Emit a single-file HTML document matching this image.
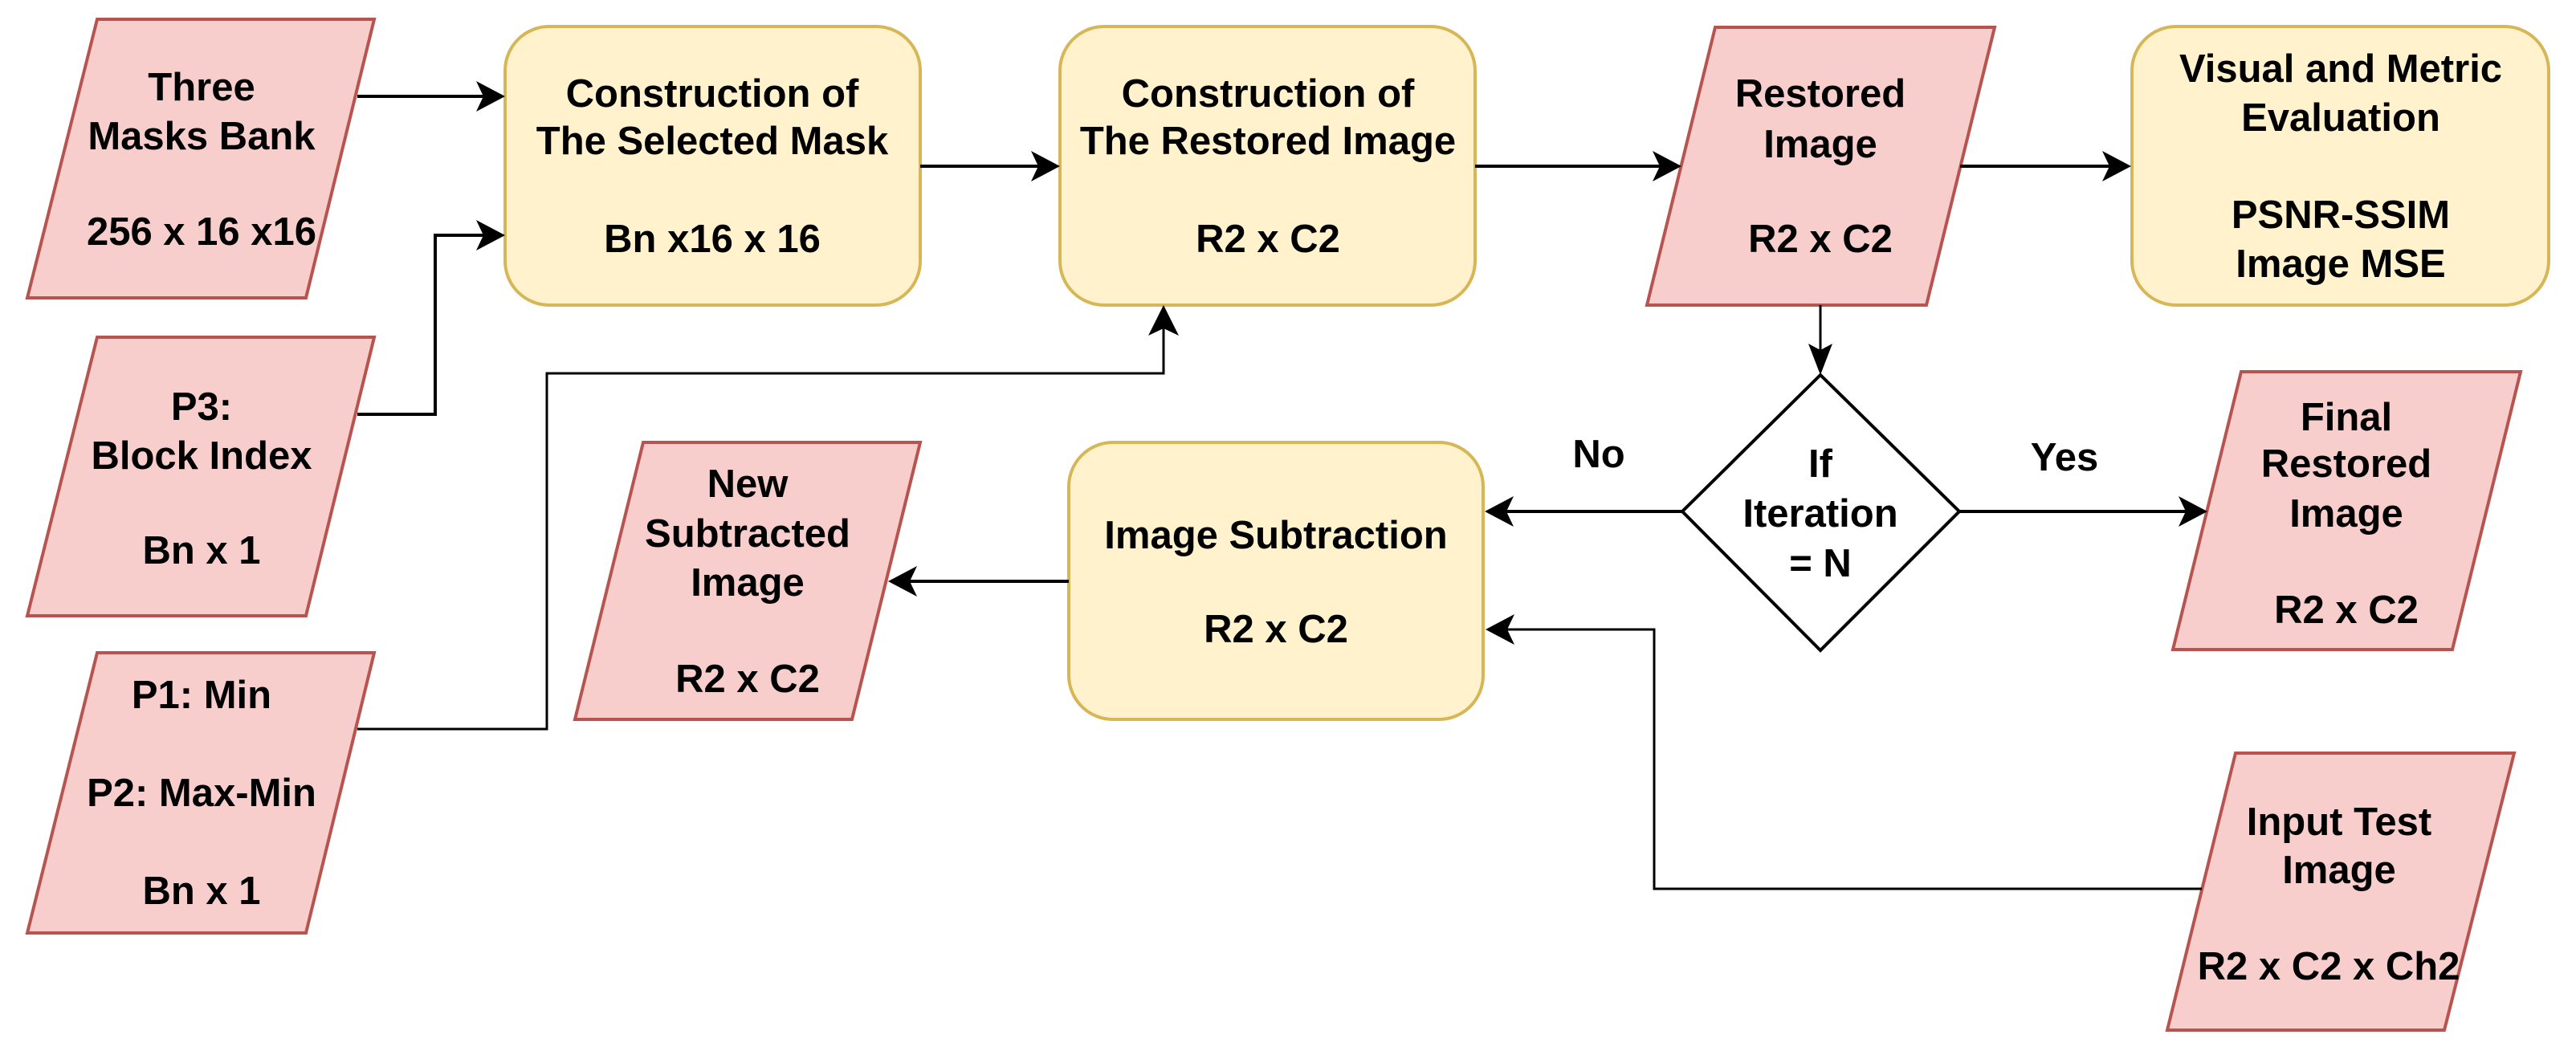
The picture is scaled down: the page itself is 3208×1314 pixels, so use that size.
<!DOCTYPE html>
<html><head><meta charset="utf-8"><style>
html,body{margin:0;padding:0;background:#fff}
svg{display:block}
text{font-family:"Liberation Sans",Arial,sans-serif;font-weight:bold;font-size:49px;fill:#000;text-anchor:middle;dominant-baseline:central}
.p{fill:#f8cecc;stroke:#b85450;stroke-width:4}
.y{fill:#fff2cc;stroke:#d6b656;stroke-width:4}
.l{fill:none;stroke:#000;stroke-width:4}
.t{fill:none;stroke:#000;stroke-width:3}
.a{fill:#000}
</style></head><body>
<svg width="3208" height="1314" viewBox="0 0 3208 1314" xmlns="http://www.w3.org/2000/svg">
<!-- parallelograms -->
<polygon class="p" points="121,24 466,24 381,371 34,371"/>
<polygon class="p" points="121,420 466,420 381,767 34,767"/>
<polygon class="p" points="121,813 466,813 381,1162 34,1162"/>
<polygon class="p" points="801,551 1146,551 1061,896 716,896"/>
<polygon class="p" points="2136,34 2484,34 2399,380 2051,380"/>
<polygon class="p" points="2791,463 3139,463 3054,809 2706,809"/>
<polygon class="p" points="2784,938 3131,938 3044,1283 2699,1283"/>
<!-- rounded boxes -->
<rect class="y" x="629" y="33" width="517" height="347" rx="55"/>
<rect class="y" x="1320" y="33" width="517" height="347" rx="55"/>
<rect class="y" x="2655" y="33" width="519" height="347" rx="55"/>
<rect class="y" x="1331" y="551" width="516" height="345" rx="55"/>
<!-- diamond -->
<polygon points="2267,467 2440,637 2267,810 2095,637" fill="#fff" stroke="#000" stroke-width="4"/>

<!-- connectors -->
<line class="l" x1="445" y1="120" x2="605" y2="120"/>
<polygon class="a" points="629,120 593,101 602,120 593,139"/>
<polyline class="l" points="445,516 542,516 542,293 605,293"/>
<polygon class="a" points="629,293 593,274 602,293 593,312"/>
<line class="l" x1="1146" y1="207" x2="1296" y2="207"/>
<polygon class="a" points="1320,207 1284,188 1293,207 1284,226"/>
<polyline class="t" points="445,908 681,908 681,465 1449,465 1449,405"/>
<polygon class="a" points="1449,380 1430,418 1449,409 1468,418"/>
<line class="l" x1="1837" y1="207" x2="2070" y2="207"/>
<polygon class="a" points="2094,207 2058,188 2067,207 2058,226"/>
<line class="l" x1="2441" y1="207" x2="2630" y2="207"/>
<polygon class="a" points="2654,207 2618,188 2627,207 2618,226"/>
<line class="t" x1="2267" y1="380" x2="2267" y2="445"/>
<polygon class="a" points="2267,467 2252,428 2267,436 2282,428"/>
<line class="l" x1="2095" y1="637" x2="1872" y2="637"/>
<polygon class="a" points="1849,637 1885,618 1876,637 1885,656"/>
<line class="l" x1="2440" y1="637" x2="2725" y2="637"/>
<polygon class="a" points="2749,637 2713,618 2722,637 2713,656"/>
<line class="l" x1="1331" y1="724" x2="1130" y2="724"/>
<polygon class="a" points="1106,724 1142,705 1133,724 1142,743"/>
<polyline class="t" points="2742,1107 2060,1107 2060,784 1875,784"/>
<polygon class="a" points="1850,784 1886,765 1877,784 1886,803"/>

<!-- text -->
<text x="251" y="109">Three</text>
<text x="251" y="170">Masks Bank</text>
<text x="251" y="289">256 x 16 x16</text>
<text x="251" y="507">P3:</text>
<text x="251" y="568">Block Index</text>
<text x="251" y="686">Bn x 1</text>
<text x="251" y="866">P1: Min</text>
<text x="251" y="988">P2: Max-Min</text>
<text x="251" y="1110">Bn x 1</text>
<text x="887" y="117">Construction of</text>
<text x="887" y="176">The Selected Mask</text>
<text x="887" y="298">Bn x16 x 16</text>
<text x="1579" y="117">Construction of</text>
<text x="1579" y="176">The Restored Image</text>
<text x="1579" y="298">R2 x C2</text>
<text x="2267" y="117">Restored</text>
<text x="2267" y="180">Image</text>
<text x="2267" y="298">R2 x C2</text>
<text x="2915" y="86">Visual and Metric</text>
<text x="2915" y="147">Evaluation</text>
<text x="2915" y="268">PSNR-SSIM</text>
<text x="2915" y="329">Image MSE</text>
<text x="931" y="603">New</text>
<text x="931" y="665">Subtracted</text>
<text x="931" y="726">Image</text>
<text x="931" y="846">R2 x C2</text>
<text x="1589" y="667">Image Subtraction</text>
<text x="1589" y="784">R2 x C2</text>
<text x="2267" y="578">If</text>
<text x="2267" y="640">Iteration</text>
<text x="2267" y="702">= N</text>
<text x="1991" y="566">No</text>
<text x="2571" y="570">Yes</text>
<text x="2922" y="520">Final</text>
<text x="2922" y="578">Restored</text>
<text x="2922" y="640">Image</text>
<text x="2922" y="760">R2 x C2</text>
<text x="2913" y="1024">Input Test</text>
<text x="2913" y="1084">Image</text>
<text x="2900" y="1204">R2 x C2 x Ch2</text>
</svg>
</body></html>
